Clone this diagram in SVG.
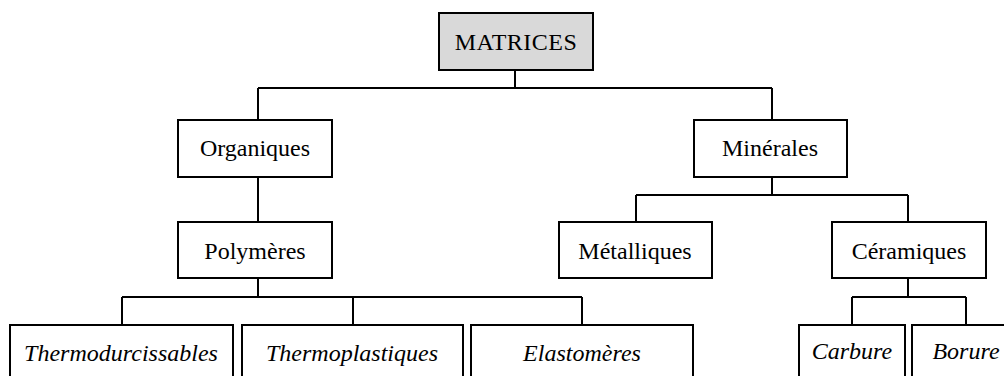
<svg xmlns="http://www.w3.org/2000/svg" width="1004" height="376" viewBox="0 0 1004 376">
<style>
.box{fill:#ffffff;stroke:#000000;stroke-width:2}
.root{fill:#d9d9d9;stroke:#000000;stroke-width:2}
.lbl{font-family:'Liberation Serif','DejaVu Serif',serif;font-size:24px;fill:#000000;text-anchor:middle}
.it{font-style:italic}
.con{fill:none;stroke:#000000;stroke-width:2}
</style>
<rect width="1004" height="376" fill="#ffffff"/>
<g id="connectors">
<path class="con" d="M515,70 V88 M258,88 H772 M258,88 V120 M772,88 V120"/>
<path class="con" d="M258,177 V222"/>
<path class="con" d="M772,177 V195 M636,195 H908 M636,195 V222 M908,195 V222"/>
<path class="con" d="M258,278 V297 M122,297 H582 M122,297 V325 M353,297 V325 M582,297 V325"/>
<path class="con" d="M908,278 V297 M852,297 H966 M852,297 V325 M966,297 V325"/>
</g>
<g id="matrices"><rect class="root" x="439" y="13" width="154" height="57"/><text class="lbl" x="516" y="50" letter-spacing="0.5">MATRICES</text></g>
<g id="organiques"><rect class="box" x="178" y="120" width="154" height="57"/><text class="lbl" x="255" y="156">Organiques</text></g>
<g id="minerales"><rect class="box" x="694" y="120" width="153" height="57"/><text class="lbl" x="770" y="156">Minérales</text></g>
<g id="polymeres"><rect class="box" x="178" y="222" width="154" height="56"/><text class="lbl" x="255" y="259">Polymères</text></g>
<g id="metalliques"><rect class="box" x="559" y="222" width="153" height="56"/><text class="lbl" x="635" y="259">Métalliques</text></g>
<g id="ceramiques"><rect class="box" x="832" y="222" width="154" height="56"/><text class="lbl" x="909" y="259">Céramiques</text></g>
<g id="thermodurcissables"><rect class="box" x="10" y="325" width="223" height="70"/><text class="lbl it" x="121" y="361">Thermodurcissables</text></g>
<g id="thermoplastiques"><rect class="box" x="242" y="325" width="221" height="70"/><text class="lbl it" x="352" y="361">Thermoplastiques</text></g>
<g id="elastomeres"><rect class="box" x="471" y="325" width="222" height="70"/><text class="lbl it" x="582" y="361">Elastomères</text></g>
<g id="carbure"><rect class="box" x="799" y="325" width="106" height="70"/><text class="lbl it" x="852" y="359">Carbure</text></g>
<g id="borure"><rect class="box" x="912" y="325" width="108" height="70"/><text class="lbl it" x="966" y="359">Borure</text></g>
</svg>
